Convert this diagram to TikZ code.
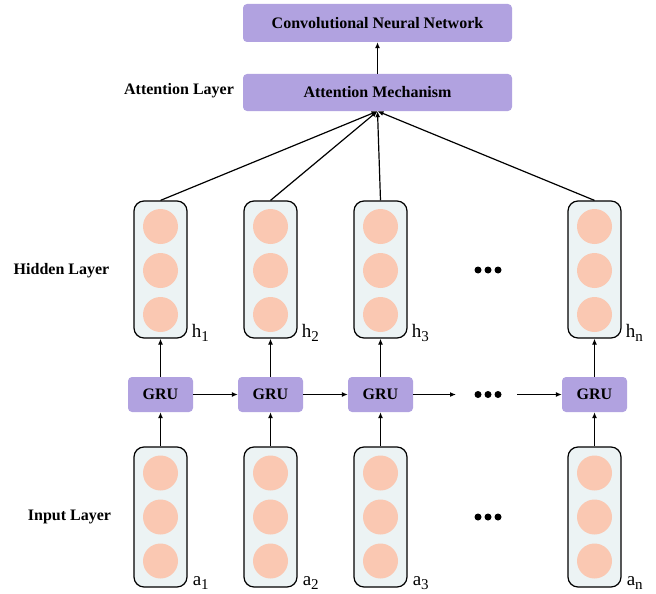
\documentclass[tikz,border=0pt]{standalone}
\usepackage{fontspec}
\setmainfont{Liberation Serif}
\usetikzlibrary{arrows.meta}
\definecolor{gruviolet}{RGB}{177,162,224}
\definecolor{unitpink}{RGB}{250,200,178}
\definecolor{colfill}{RGB}{236,243,244}
\newcommand\veclabel[2]{#1\raisebox{-4pt}{\fontsize{15}{15}\selectfont #2}}
\begin{document}
\begin{tikzpicture}[x=1pt,y=-1pt,
  purplebox/.style={fill=gruviolet, rounded corners=4pt, inner sep=0pt,
    font=\fontsize{16}{16}\selectfont\bfseries},
  vecbox/.style={draw=black, line width=1.2pt, fill=colfill, rounded corners=10pt,
    minimum width=53pt, inner sep=0pt},
  unit/.style={circle, fill=unitpink, minimum size=35pt, inner sep=0pt},
  lbl/.style={font=\fontsize{16}{16}\selectfont\bfseries, inner sep=0pt},
  arr/.style={line width=1.2pt, -{Latex[length=6pt,width=5pt]}},
  dotmark/.style={circle, fill=black, minimum size=7pt, inner sep=0pt},
  vlab/.style={font=\fontsize{19}{19}\selectfont, anchor=base west, inner sep=0pt}
]
\useasboundingbox (0,0) rectangle (656,594);

% top blocks
\node[purplebox, minimum width=269pt, minimum height=38pt] (cnn) at (377.5,23) {Convolutional Neural Network};
\node[purplebox, minimum width=269pt, minimum height=37pt] (att) at (377.5,92.5) {Attention Mechanism};
\draw[arr] (att.north) -- (cnn.south);

% row labels
\node[lbl] (attlbl) at (179,91) {Attention Layer};
\node[lbl] (hidlbl) at (61.5,271) {Hidden Layer};
\node[lbl] (inplbl) at (69.5,517) {Input Layer};

% columns: hidden vector, GRU cell, input vector
\foreach \c/\x in {1/160.5, 2/270.5, 3/380.5, n/594.5}{
  \node[vecbox, minimum height=137pt] (h\c) at (\x,269.5) {};
  \node[unit] (hu\c a) at (\x,226.5) {};
  \node[unit] (hu\c b) at (\x,270.5) {};
  \node[unit] (hu\c c) at (\x,314.5) {};
  \node[vecbox, minimum height=140pt] (a\c) at (\x,517) {};
  \node[unit] (au\c a) at (\x,473) {};
  \node[unit] (au\c b) at (\x,517) {};
  \node[unit] (au\c c) at (\x,561) {};
  \node[purplebox, minimum width=65pt, minimum height=35pt] (g\c) at (\x,394.5) {GRU};
  \node[vlab] (hl\c) at ([xshift=4pt,yshift=1pt]h\c.south east) {\veclabel{h}{\c}};
  \node[vlab] (al\c) at ([xshift=5pt,yshift=2pt]a\c.south east) {\veclabel{a}{\c}};
  \draw[arr] (a\c.north) -- (g\c.south);
  \draw[arr] (g\c.north) -- (h\c.south);
  \draw[arr] (h\c.north) -- (att.south);
}

% recurrent connections
\coordinate (gend) at (456,394.5);
\coordinate (gstart) at (517,394.5);
\draw[arr] (g1.east) -- (g2.west);
\draw[arr] (g2.east) -- (g3.west);
\draw[arr] (g3.east) -- (gend);
\draw[arr] (gstart) -- (gn.west);

% ellipsis dots
\foreach \y/\r in {270/h, 394.5/g, 517/a}{
  \node[dotmark] (\r dot1) at (478,\y) {};
  \node[dotmark] (\r dot2) at (488,\y) {};
  \node[dotmark] (\r dot3) at (498,\y) {};
}
\end{tikzpicture}
\end{document}
